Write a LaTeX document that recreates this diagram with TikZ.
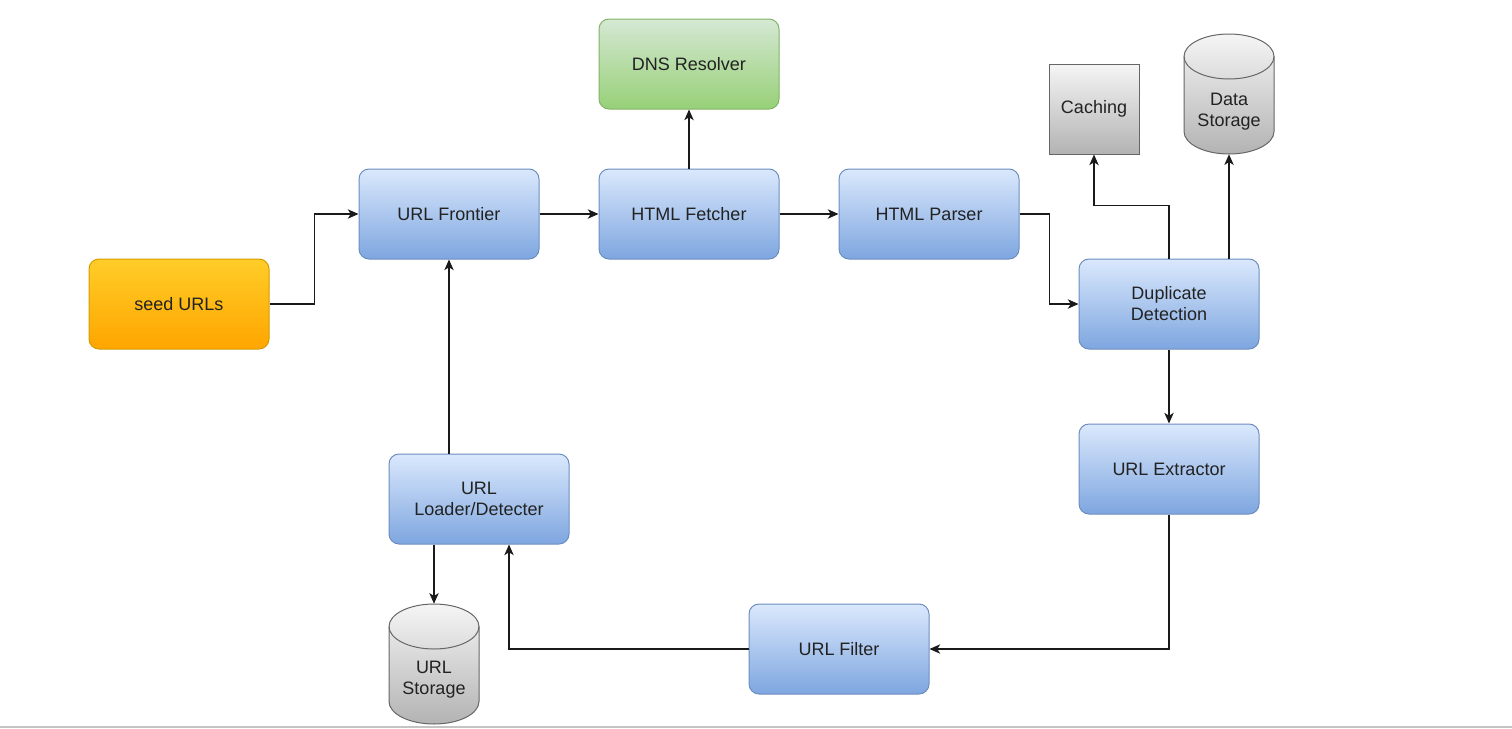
\documentclass[tikz,border=0pt]{standalone}
\usepackage{fontspec}
\setmainfont{Liberation Sans}
\usetikzlibrary{arrows.meta}
\definecolor{bluetop}{HTML}{DAE8FC}
\definecolor{bluebot}{HTML}{7EA6E0}
\definecolor{blueline}{HTML}{6C8EBF}
\definecolor{greentop}{HTML}{D5E8D4}
\definecolor{greenbot}{HTML}{97D077}
\definecolor{greenline}{HTML}{82B366}
\definecolor{orangetop}{HTML}{FFCD28}
\definecolor{orangebot}{HTML}{FFA500}
\definecolor{orangeline}{HTML}{D79B00}
\definecolor{greytop}{HTML}{F5F5F5}
\definecolor{greybot}{HTML}{B3B3B3}
\definecolor{greyline}{HTML}{666666}
\definecolor{txt}{HTML}{222222}
\definecolor{linecol}{HTML}{1A1A1A}
\definecolor{bottomrule}{HTML}{C4C4C4}
\begin{document}
\begin{tikzpicture}[x=0.75pt,y=0.75pt,
  lbl/.style={font=\fontsize{13.5}{15.75}\selectfont, text=txt, align=center},
  box/.style={lbl, rectangle, rounded corners=7.5pt, minimum width=135pt, minimum height=67.5pt, inner sep=0pt, line width=0.75pt},
  bluebox/.style={box, draw=blueline, top color=bluetop, bottom color=bluebot},
  greenbox/.style={box, draw=greenline, top color=greentop, bottom color=greenbot},
  orangebox/.style={box, draw=orangeline, top color=orangetop, bottom color=orangebot},
  greybox/.style={lbl, rectangle, minimum width=67.5pt, minimum height=67.5pt, inner sep=0pt, line width=0.75pt, draw=greyline, top color=greytop, bottom color=greybot},
  cylnode/.style={rectangle, minimum width=67.5pt, minimum height=90pt, inner sep=0pt},
  cylbody/.style={draw=greyline, line width=0.75pt, top color=greytop, bottom color=greybot},
  cylline/.style={draw=greyline, line width=0.75pt},
  conn/.style={draw=linecol, line width=1pt, -{Stealth[length=8pt,width=7pt,inset=2.2pt]}}]
\useasboundingbox (0,0) rectangle (1512,-728);
\fill[bottomrule] (0,-726) rectangle (1512,-728);

% cylinders (drawn first)
\path[cylbody] (1184,-56.5) -- (1184,-131.5) arc[start angle=180, end angle=360, x radius=33.75pt, y radius=16.875pt] -- (1274,-56.5) arc[start angle=0, end angle=180, x radius=33.75pt, y radius=16.875pt] -- cycle;
\draw[cylline] (1184,-56.5) arc[start angle=180, end angle=360, x radius=33.75pt, y radius=16.875pt];
\path[cylbody] (389,-626.5) -- (389,-701.5) arc[start angle=180, end angle=360, x radius=33.75pt, y radius=16.875pt] -- (479,-626.5) arc[start angle=0, end angle=180, x radius=33.75pt, y radius=16.875pt] -- cycle;
\draw[cylline] (389,-626.5) arc[start angle=180, end angle=360, x radius=33.75pt, y radius=16.875pt];

% nodes
\node[orangebox] (seed) at (179,-304) {seed URLs};
\node[bluebox] (front) at (449,-214) {URL Frontier};
\node[bluebox] (fetch) at (689,-214) {HTML Fetcher};
\node[greenbox] (dns) at (689,-64) {DNS Resolver};
\node[bluebox] (parser) at (929,-214) {HTML Parser};
\node[bluebox] (dup) at (1169,-304) {Duplicate\\Detection};
\node[greybox] (cache) at (1094,-109) {\raisebox{-2pt}{Caching}};
\node[cylnode] (ds) at (1229,-94) {};
\node[lbl] (dstext) at (1229,-112) {Data\\Storage};
\node[bluebox] (ext) at (1169,-469) {URL Extractor};
\node[bluebox] (filter) at (839,-649) {URL Filter};
\node[bluebox] (loader) at (479,-499) {URL\\Loader/Detecter};
\node[cylnode] (us) at (434,-664) {};
\node[lbl] (ustext) at (434,-680) {URL\\Storage};

% connectors
\draw[conn] (seed.east) -- ++(45,0) |- (front.west);
\draw[conn] (front) -- (fetch);
\draw[conn] (fetch) -- (dns);
\draw[conn] (fetch) -- (parser);
\draw[conn] (parser.east) -- ++(30,0) |- (dup.west);
\draw[conn] (dup.north) -- ++(0,53) -| (cache.south);
\draw[conn] ([xshift=45pt]dup.north) -- (ds.south);
\draw[conn] (dup) -- (ext);
\draw[conn] (ext.south) |- (filter.east);
\draw[conn] (filter.west) -| ([xshift=22.5pt]loader.south);
\draw[conn] ([xshift=-22.5pt]loader.north) -- (front.south);
\draw[conn] ([xshift=-33.75pt]loader.south) -- (us.north);
\end{tikzpicture}
\end{document}
